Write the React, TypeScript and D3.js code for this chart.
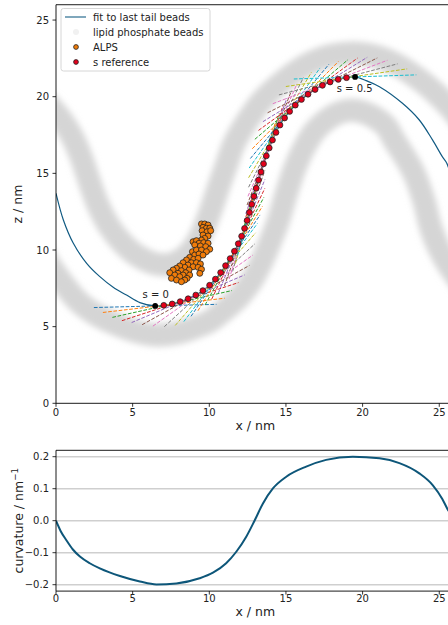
import React from 'react';
import * as d3 from 'd3';

const W = 448;
const H = 625;

// s reference points along the fitted midplane (s = 0 … 0.5)
const sRefX = [6.47, 7.03, 7.58, 8.10, 8.62, 9.12, 9.58, 10.02, 10.40, 10.74, 11.06, 11.36, 11.64, 11.89, 12.11, 12.30, 12.47, 12.62, 12.77, 12.91, 13.06, 13.21, 13.37, 13.54, 13.72, 13.91, 14.12, 14.35, 14.61, 14.91, 15.24, 15.61, 16.01, 16.44, 16.90, 17.38, 17.88, 18.41, 18.95, 19.51];
const sRefZ = [6.35, 6.39, 6.48, 6.63, 6.82, 7.06, 7.35, 7.70, 8.10, 8.53, 8.98, 9.44, 9.92, 10.41, 10.90, 11.41, 11.93, 12.45, 12.98, 13.50, 14.03, 14.56, 15.09, 15.62, 16.14, 16.66, 17.17, 17.67, 18.15, 18.61, 19.04, 19.45, 19.82, 20.16, 20.47, 20.74, 20.96, 21.13, 21.24, 21.29];

// fit to last tail beads
const fitX = [0, 0.48, 1.13, 2.0, 2.86, 3.73, 4.6, 5.47, 6.47, 7.6, 8.62, 9.58, 10.40, 11.06, 11.64, 12.11, 12.47, 12.77, 13.06, 13.37, 13.72, 14.12, 14.61, 15.24, 16.01, 16.90, 17.88, 18.95, 19.51, 20.23, 21.1, 22.6, 23.7, 24.56, 25.2, 25.5, 26.0];
const fitZ = [13.7, 11.96, 10.44, 9.13, 8.26, 7.57, 7.06, 6.57, 6.35, 6.48, 6.82, 7.35, 8.10, 8.98, 9.92, 10.90, 11.93, 12.98, 14.03, 15.09, 16.14, 17.17, 18.15, 19.04, 19.82, 20.47, 20.96, 21.24, 21.29, 21.05, 20.65, 19.57, 18.48, 17.18, 16.09, 15.65, 13.75];

// ALPS beads
const alpsX = [9.49, 9.70, 9.92, 9.59, 9.81, 10.03, 9.53, 9.85, 10.09, 9.59, 9.92, 9.70, 9.49, 8.94, 9.16, 9.33, 9.64, 9.92, 9.05, 9.42, 9.77, 10.03, 8.90, 9.16, 9.49, 9.81, 9.05, 9.33, 9.59, 8.72, 8.98, 9.27, 8.51, 8.83, 9.16, 9.42, 8.29, 8.61, 8.94, 9.27, 8.40, 8.68, 8.07, 7.86, 8.18, 8.46, 8.72, 7.64, 7.96, 8.29, 8.55, 7.42, 7.75, 8.07, 8.40, 7.53, 7.86, 8.18, 9.49, 9.38];
const alpsZ = [11.70, 11.70, 11.63, 11.48, 11.42, 11.42, 11.26, 11.19, 11.26, 10.98, 10.91, 10.76, 10.65, 10.54, 10.61, 10.44, 10.48, 10.44, 10.33, 10.26, 10.22, 10.05, 9.89, 10.00, 10.00, 9.89, 9.67, 9.74, 9.67, 9.52, 9.39, 9.46, 9.35, 9.17, 9.17, 9.09, 9.17, 9.02, 8.91, 8.87, 8.87, 8.70, 8.96, 8.81, 8.65, 8.52, 8.37, 8.70, 8.48, 8.37, 8.15, 8.52, 8.37, 8.26, 8.04, 8.15, 8.04, 7.93, 8.74, 8.48];

// lipid phosphate bead leaflets (centre lines of the bead clouds)
const upperLeafX = [-2.4, -1.4, -0.4, 0.5, 1.1, 1.7, 2.2, 2.8, 3.5, 4.3, 5.2, 6.3, 7.3, 8.2, 9.0, 9.6, 10.1, 10.6, 11.1, 11.6, 12.4, 13.5, 14.8, 16.4, 18.0, 19.5, 21.0, 22.4, 23.6, 24.7, 25.6, 26.5];
const upperLeafZ = [21.2, 20.4, 19.4, 18.3, 17.3, 15.9, 14.4, 12.8, 11.5, 10.5, 9.7, 9.15, 9.05, 9.4, 10.2, 11.3, 12.6, 14.1, 15.5, 16.9, 18.3, 19.8, 21.0, 22.1, 22.7, 22.85, 22.6, 22.0, 21.2, 20.3, 19.4, 18.3];
const lowerLeafX = [-2.6, -2.0, -1.5, -0.7, 0.4, 1.5, 2.6, 3.7, 5.0, 6.5, 8.0, 9.2, 10.1, 11.0, 11.9, 12.7, 13.4, 14.0, 14.5, 15.0, 15.6, 16.2, 16.9, 17.8, 18.6, 19.5, 20.6, 21.5, 22.1, 22.8, 23.4, 24.0, 24.5, 25.3, 26.4, 27.5];
const lowerLeafZ = [15.0, 13.2, 11.3, 9.5, 7.9, 6.6, 5.8, 5.25, 4.75, 4.45, 4.6, 5.0, 5.4, 6.1, 6.9, 7.9, 9.2, 10.6, 11.9, 13.6, 15.4, 16.7, 17.8, 18.6, 19.0, 19.1, 18.75, 18.1, 17.1, 16.0, 14.9, 13.2, 11.3, 9.5, 7.9, 6.6];

// curvature of the fit along x
const curvX = [0, 0.3, 0.69, 1.1, 1.56, 2.2, 2.86, 4.17, 5.47, 6.55, 7.85, 9.37, 10.24, 11.1, 11.76, 12.41, 12.95, 13.5, 14.15, 15.02, 16.32, 17.62, 19.36, 21.1, 22.4, 23.7, 24.57, 25.2, 25.5, 26.0];
const curvK = [0, -0.032, -0.062, -0.09, -0.112, -0.133, -0.149, -0.173, -0.19, -0.199, -0.196, -0.18, -0.1625, -0.133, -0.097, -0.05, 0, 0.054, 0.101, 0.1375, 0.169, 0.19, 0.2, 0.195, 0.18, 0.148, 0.1115, 0.068, 0.04, 0];

const xTicks = [0, 5, 10, 15, 20, 25];
const zTicks = [0, 5, 10, 15, 20, 25];
const kTicks = [-0.2, -0.1, 0, 0.1, 0.2];
const kTickLabels = ['\u22120.2', '\u22120.1', '0.0', '0.1', '0.2'];

const legendLabels = ['fit to last tail beads', 'lipid phosphate beads', 'ALPS', 's reference'];

const TANGENT_HALF = 4; // nm
const FIT_COLOR = '#125b83';
const FONT = 'DejaVu Sans, sans-serif';

const PX = 15.33;
const L = 56;
const xScale = d3.scaleLinear().domain([0, 26]).range([L, L + 26 * PX]);
const zScale = d3.scaleLinear().domain([0, 26]).range([403.3, 403.3 - 26 * PX]);
const kScale = d3.scaleLinear().domain([-0.22, 0.22]).range([591.1, 450.3]);

const zip = (xs: number[], ys: number[]) => xs.map((x, i) => [x, ys[i]] as [number, number]);

export default function App() {
  const top = zScale(26);
  const right = xScale(26);
  const bottom = zScale(0);

  const smooth = d3
    .line<[number, number]>()
    .x((d) => xScale(d[0]))
    .y((d) => zScale(d[1]))
    .curve(d3.curveCatmullRom.alpha(0.5));

  const kLine = d3
    .line<[number, number]>()
    .x((d) => xScale(d[0]))
    .y((d) => kScale(d[1]))
    .curve(d3.curveMonotoneX);

  // tangent direction at each reference point from its neighbours
  const n = sRefX.length;
  const chord = (i: number, j: number) => Math.atan2(sRefZ[j] - sRefZ[i], sRefX[j] - sRefX[i]);
  const angles = sRefX.map((_, i) => (i > 0 && i < n - 1 ? chord(i - 1, i + 1) : 0));
  angles[0] = 2 * chord(0, 1) - angles[1];
  angles[n - 1] = 2 * chord(n - 2, n - 1) - angles[n - 2];

  const colors = d3.schemeCategory10;
  const legendRows = [17, 32, 47, 62];

  return (
    <svg
      width={W}
      height={H}
      viewBox={`0 0 ${W} ${H}`}
      style={{ position: 'absolute', left: 0, top: 0, background: '#fff' }}
      fontFamily={FONT}
    >
      <defs>
        <clipPath id="topClip">
          <rect x={L} y={top} width={right - L} height={bottom - top} />
        </clipPath>
        <clipPath id="botClip">
          <rect x={L} y={kScale(0.22)} width={right - L} height={kScale(-0.22) - kScale(0.22)} />
        </clipPath>
        <filter id="haze" x="-20%" y="-20%" width="140%" height="140%">
          <feGaussianBlur stdDeviation="3" />
        </filter>
      </defs>

      <rect x={0} y={0} width={W} height={H} fill="#fff" />

      {/* ---------- top panel ---------- */}
      <g clipPath="url(#topClip)">
        <g filter="url(#haze)" fill="none" stroke="#d5d5d5" strokeWidth={23} strokeLinecap="round">
          <path d={smooth(zip(upperLeafX, upperLeafZ)) || ''} />
          <path d={smooth(zip(lowerLeafX, lowerLeafZ)) || ''} />
        </g>

        <path d={smooth(zip(fitX, fitZ)) || ''} fill="none" stroke={FIT_COLOR} strokeWidth={1.2} />

        {sRefX.map((x, i) => {
          const a = angles[i];
          const dx = TANGENT_HALF * Math.cos(a);
          const dz = TANGENT_HALF * Math.sin(a);
          return (
            <line
              key={`t${i}`}
              x1={xScale(x - dx)}
              y1={zScale(sRefZ[i] - dz)}
              x2={xScale(x + dx)}
              y2={zScale(sRefZ[i] + dz)}
              stroke={colors[i % 10]}
              strokeWidth={1}
              strokeDasharray="3.7,1.6"
            />
          );
        })}

        {alpsX.map((x, i) => (
          <circle key={`a${i}`} cx={xScale(x)} cy={zScale(alpsZ[i])} r={3} fill="#f07c0a" stroke="#222" strokeWidth={0.8} />
        ))}

        {sRefX.map((x, i) =>
          i === 0 || i === n - 1 ? null : (
            <circle key={`s${i}`} cx={xScale(x)} cy={zScale(sRefZ[i])} r={2.9} fill="#e3001b" stroke="#222" strokeWidth={0.8} />
          )
        )}
        {[0, n - 1].map((i) => (
          <circle key={`e${i}`} cx={xScale(sRefX[i])} cy={zScale(sRefZ[i])} r={2.9} fill="#000" />
        ))}

        <text x={xScale(sRefX[0]) - 12.6} y={zScale(sRefZ[0]) - 7.7} fontSize={10} fill="#222">s = 0</text>
        <text x={xScale(sRefX[n - 1]) - 18.4} y={zScale(sRefZ[n - 1]) + 14.7} fontSize={10} fill="#222">s = 0.5</text>
      </g>

      {/* spines */}
      <line x1={L} y1={top} x2={L} y2={bottom} stroke="#000" strokeWidth={0.9} />
      <line x1={L} y1={bottom} x2={right} y2={bottom} stroke="#000" strokeWidth={0.9} />
      <line x1={L} y1={top} x2={right} y2={top} stroke="#000" strokeWidth={0.9} />

      {xTicks.map((t) => (
        <g key={`xt${t}`}>
          <line x1={xScale(t)} x2={xScale(t)} y1={bottom} y2={bottom + 3.5} stroke="#000" strokeWidth={0.8} />
          <text x={xScale(t)} y={416} fontSize={10} textAnchor="middle" fill="#222">{t}</text>
        </g>
      ))}
      {zTicks.map((t) => (
        <g key={`zt${t}`}>
          <line x1={L - 3.5} x2={L} y1={zScale(t)} y2={zScale(t)} stroke="#000" strokeWidth={0.8} />
          <text x={49} y={zScale(t) + 3.6} fontSize={10} textAnchor="end" fill="#222">{t}</text>
        </g>
      ))}
      <text x={(L + right) / 2} y={430} fontSize={12.5} textAnchor="middle" fill="#222">x / nm</text>
      <text transform={`translate(22, ${(top + bottom) / 2}) rotate(-90)`} fontSize={12.5} textAnchor="middle" fill="#222">z / nm</text>

      {/* legend */}
      <g>
        <rect x={61} y={8.5} width={149} height={62.5} rx={2.5} fill="#fff" fillOpacity={0.8} stroke="#cccccc" strokeWidth={0.8} />
        <line x1={65} x2={86} y1={legendRows[0]} y2={legendRows[0]} stroke={FIT_COLOR} strokeOpacity={0.6} strokeWidth={1.8} />
        <circle cx={76} cy={legendRows[1]} r={3} fill="#f1f1f1" />
        <circle cx={76} cy={legendRows[2]} r={2.4} fill="#f07c0a" stroke="#222" strokeWidth={0.8} />
        <circle cx={76} cy={legendRows[3]} r={2.4} fill="#e3001b" stroke="#222" strokeWidth={0.8} />
        {legendLabels.map((lab, i) => (
          <text key={lab} x={93} y={legendRows[i] + 3.6} fontSize={10} fill="#222">{lab}</text>
        ))}
      </g>

      {/* ---------- bottom panel ---------- */}
      {kTicks.map((t) => (
        <line key={`g${t}`} x1={L} x2={right} y1={kScale(t)} y2={kScale(t)} stroke="#cfcfcf" strokeWidth={1.5} />
      ))}
      <g clipPath="url(#botClip)">
        <path d={kLine(zip(curvX, curvK)) || ''} fill="none" stroke="#0d5679" strokeWidth={2} />
      </g>
      <line x1={L} y1={kScale(0.22)} x2={L} y2={kScale(-0.22)} stroke="#000" strokeWidth={0.9} />
      <line x1={L} y1={kScale(-0.22)} x2={right} y2={kScale(-0.22)} stroke="#000" strokeWidth={0.9} />
      <line x1={L} y1={kScale(0.22)} x2={right} y2={kScale(0.22)} stroke="#000" strokeWidth={0.9} />
      {xTicks.map((t) => (
        <g key={`bx${t}`}>
          <line x1={xScale(t)} x2={xScale(t)} y1={kScale(-0.22)} y2={kScale(-0.22) + 3.5} stroke="#000" strokeWidth={0.8} />
          <text x={xScale(t)} y={602} fontSize={10} textAnchor="middle" fill="#222">{t}</text>
        </g>
      ))}
      {kTicks.map((t, i) => (
        <g key={`bk${t}`}>
          <line x1={L - 3.5} x2={L} y1={kScale(t)} y2={kScale(t)} stroke="#000" strokeWidth={0.8} />
          <text x={49} y={kScale(t) + 3.6} fontSize={10} textAnchor="end" fill="#222">{kTickLabels[i]}</text>
        </g>
      ))}
      <text x={(L + right) / 2} y={616} fontSize={12.5} textAnchor="middle" fill="#222">x / nm</text>
      <text transform={`translate(23, ${(kScale(0.22) + kScale(-0.22)) / 2}) rotate(-90)`} fontSize={12.5} textAnchor="middle" fill="#222">
        curvature / nm<tspan fontSize={8.8} dy={-5}>{'\u22121'}</tspan>
      </text>
    </svg>
  );
}
